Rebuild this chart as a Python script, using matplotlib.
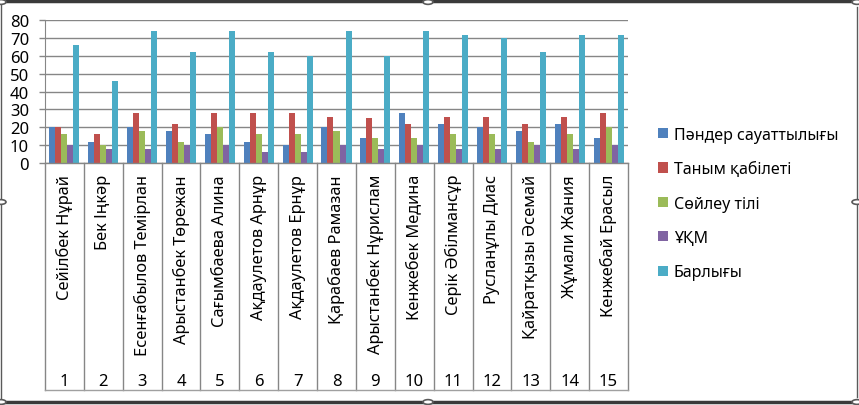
import matplotlib
matplotlib.use("Agg")
import matplotlib.pyplot as plt
from matplotlib.patches import Rectangle, Circle
from matplotlib.lines import Line2D
import numpy as np

plt.rcParams['font.family'] = ['Noto Sans', 'DejaVu Sans']

names = ['Сейілбек Нұрай', 'Бек Іңкәр', 'Есенғабылов Темірлан', 'Арыстанбек Төрежан',
         'Сағымбаева Алина', 'Ақдаулетов Арнұр', 'Ақдаулетов Ернұр', 'Қарабаев Рамазан',
         'Арыстанбек Нұрислам', 'Кенжебек Медина', 'Серік Әбілмансұр', 'Русланұлы Диас',
         'Қайратқызы Әсемай', 'Жұмали Жания', 'Кенжебай Ерасыл']
numbers = [str(i) for i in range(1, 16)]

series = ['Пәндер сауаттылығы', 'Таным қабілеті', 'Сөйлеу тілі', 'ҰҚМ', 'Барлығы']
pander = [20, 12, 20, 18, 16, 12, 10, 20, 14, 28, 22, 20, 18, 22, 14]
tanym = [20, 16, 28, 22, 28, 28, 28, 26, 25, 22, 26, 26, 22, 26, 28]
soileu = [16, 10, 18, 12, 20, 16, 16, 18, 14, 14, 16, 16, 12, 16, 20]
ukm = [10, 8, 8, 10, 10, 6, 6, 10, 8, 10, 8, 8, 10, 8, 10]
barlygy = [66, 46, 74, 62, 74, 62, 60, 74, 60, 74, 72, 70, 62, 72, 72]
colors = ['#4F81BD', '#C0504D', '#9BBB59', '#8064A2', '#4BACC6']

W, H = 859, 406
fig = plt.figure(figsize=(W / 100, H / 100), dpi=100)

# plot area in pixel coordinates
x0, x1 = 45, 628
ytop, yzero, ybot = 21.3, 164, 391.5
ax = fig.add_axes([x0 / W, (H - yzero) / H, (x1 - x0) / W, (yzero - ytop) / H])

grid_c = '#868686'
x = np.arange(len(names))
w = 0.155
for i, vals in enumerate([pander, tanym, soileu, ukm, barlygy]):
    ax.bar(x + (i - 2) * w, vals, w, color=colors[i], label=series[i], zorder=3)

ax.set_xlim(-0.5, len(names) - 0.5)
ax.set_ylim(0, 80)
ax.set_yticks(range(0, 81, 10))
ax.yaxis.grid(True, color=grid_c, linewidth=1.0)
ax.set_axisbelow(True)
ax.set_xticks([])
for s in ['top', 'right', 'bottom']:
    ax.spines[s].set_visible(False)
ax.spines['left'].set_color(grid_c)
ax.tick_params(axis='y', length=4.5, color=grid_c, width=1.0, pad=7, labelsize=12)

# category table below the axis
tab = fig.add_axes([x0 / W, (H - ybot) / H, (x1 - x0) / W, (ybot - yzero) / H])
tab.set_xlim(-0.5, len(names) - 0.5)
tab.set_ylim(ybot, yzero)
tab.axis('off')
for k in range(len(names) + 1):
    tab.plot([k - 0.5, k - 0.5], [yzero, ybot], color=grid_c, lw=1.0, clip_on=False)
tab.plot([-0.5, len(names) - 0.5], [ybot, ybot], color='#a0a0a0', lw=1.0, clip_on=False)
tab.plot([-0.5, len(names) - 0.5], [yzero, yzero], color=grid_c, lw=1.0, clip_on=False)
for k, nm in enumerate(names):
    tab.text(k, 175, nm, rotation=90, ha='center', va='top', fontsize=11.8)
    tab.text(k, 382, numbers[k], ha='center', va='center', fontsize=12)

leg = fig.legend(loc='center left', bbox_to_anchor=(650 / W, (H - 204.5) / H),
                 frameon=False, fontsize=11.5, handlelength=0.6, handleheight=0.6,
                 handletextpad=0.4, labelspacing=1.15, borderpad=0)

# chart frame with selection handles
frame = '#5a5a5a'
fig.add_artist(Line2D([0.5 / W, 0.5 / W], [0, 1], color=frame, lw=1))
fig.add_artist(Line2D([(W - 2) / W, (W - 2) / W], [0.02, 0.98], color=frame, lw=1))
fig.add_artist(Line2D([0, 1], [1 - 1.5 / H, 1 - 1.5 / H], color='#3a3a3a', lw=2.5))
fig.add_artist(Line2D([0, 1], [1 - 403 / H, 1 - 403 / H], color='#3a3a3a', lw=2.5))
for hx, hy in [(428, 3), (428, 403), (1, 203), (857, 203), (1, 3), (857, 3), (1, 403), (857, 403)]:
    fig.add_artist(Circle((hx / W, 1 - hy / H), 5 / W, transform=fig.transFigure,
                          facecolor='white', edgecolor='#5a5a5a', lw=1.2, zorder=5))

fig.savefig('out.png', dpi=100)
